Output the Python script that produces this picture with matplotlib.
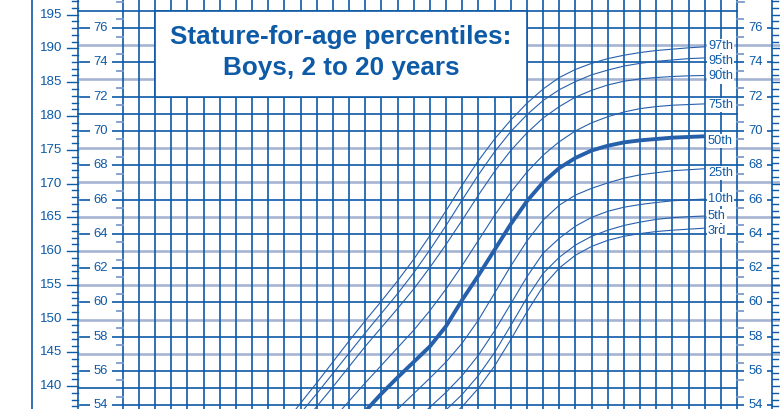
import numpy as np
import matplotlib.pyplot as plt
from matplotlib.patches import Rectangle

# percentile curves, stature in cm
ages = [6.5, 7.0, 7.5, 8.0, 8.5, 9.0, 9.5, 10.0, 10.5, 11.0, 11.5, 12.0, 12.5, 13.0, 13.5,
        14.0, 14.5, 15.0, 15.5, 16.0, 16.5, 17.0, 17.5, 18.0, 18.5, 19.0, 19.5, 20.0]
p97 = [131.2, 134.4, 137.5, 140.5, 143.6, 146.7, 149.7, 152.6, 155.6, 158.8, 162.3, 166.0, 169.8, 173.4, 176.6,
       179.4, 181.9, 184.0, 185.7, 186.9, 187.8, 188.5, 189.0, 189.4, 189.7, 189.9, 190.1, 190.25]
p95 = [129.9, 133.1, 136.0, 138.9, 141.9, 144.9, 147.9, 150.8, 153.7, 156.8, 160.2, 163.8, 167.6, 171.3, 174.7,
       177.7, 180.2, 182.3, 183.9, 185.1, 186.1, 186.8, 187.4, 187.8, 188.1, 188.3, 188.5, 188.6]
p90 = [128.1, 131.1, 134.0, 137.0, 139.9, 142.9, 145.9, 148.7, 151.5, 154.4, 157.6, 161.0, 164.6, 168.3, 171.8,
       174.9, 177.5, 179.7, 181.4, 182.8, 183.8, 184.6, 185.15, 185.5, 185.7, 185.85, 185.95, 186.0]
p75 = [124.2, 127.0, 129.7, 132.4, 135.1, 137.8, 140.5, 143.1, 145.7, 148.3, 151.2, 154.4, 157.9, 161.6, 165.3,
       168.7, 171.7, 174.2, 176.2, 177.8, 179.0, 179.9, 180.6, 181.1, 181.4, 181.6, 181.7, 181.8]
p50 = [120.2, 122.9, 125.6, 128.3, 131.0, 133.6, 136.3, 138.9, 141.3, 143.6, 145.9, 148.9, 152.8, 156.4, 160.2,
       164.0, 167.4, 170.2, 172.3, 173.8, 174.9, 175.6, 176.1, 176.4, 176.6, 176.8, 176.9, 177.0]
p25 = [116.3, 118.9, 121.4, 124.0, 126.6, 129.2, 131.7, 134.2, 136.6, 138.9, 141.2, 143.6, 146.4, 149.8, 153.8,
       157.8, 161.5, 164.6, 166.8, 168.3, 169.3, 170.1, 170.8, 171.3, 171.6, 171.9, 172.05, 172.2]
p10 = [113.0, 115.4, 117.9, 120.4, 122.9, 125.4, 127.8, 130.2, 132.5, 134.7, 136.9, 139.1, 141.6, 144.6, 148.2,
       152.2, 156.2, 159.7, 161.9, 163.7, 165.0, 165.9, 166.5, 166.9, 167.2, 167.45, 167.6, 167.7]
p5 = [111.0, 113.4, 115.9, 118.3, 120.7, 123.1, 125.5, 127.8, 130.0, 132.2, 134.3, 136.5, 138.8, 141.6, 145.0,
      149.0, 153.1, 156.7, 159.1, 160.9, 162.2, 163.1, 163.8, 164.3, 164.7, 164.95, 165.1, 165.2]
p3 = [109.8, 112.2, 114.6, 117.0, 119.4, 121.7, 124.0, 126.3, 128.5, 130.6, 132.7, 134.8, 137.0, 139.7, 143.0,
      146.9, 151.0, 154.8, 157.5, 159.4, 160.7, 161.6, 162.2, 162.6, 162.9, 163.1, 163.25, 163.4]

curves = [("97th", p97), ("95th", p95), ("90th", p90), ("75th", p75), ("50th", p50),
          ("25th", p25), ("10th", p10), ("5th", p5), ("3rd", p3)]
label_nudge = {"97th": 1, "95th": -3, "90th": -1, "75th": -1, "50th": -5,
               "25th": -4, "10th": 0, "5th": 0, "3rd": -3}  # pixels

cm_labels = list(range(140, 200, 5))
inch_labels = list(range(54, 78, 2))
gray_inches = [57, 59, 61, 63, 65, 67, 69, 73, 75]

BLUE = "#0d5aa7"
GRAY = "#a6b4d4"
CURVE = "#2660ab"
FONT = "Liberation Sans"

# pixel layout of the crop
AGE2_PX, PX_PER_YEAR = 122.7, 32.34
CM195_PX, PX_PER_CM = 14.7, 6.755


def px_x(px):
    return 2 + (px - AGE2_PX) / PX_PER_YEAR


def px_y(py):
    return 195 - (py - CM195_PX) / PX_PER_CM


fig = plt.figure(figsize=(7.8, 4.09), dpi=100)
ax = fig.add_axes([0, 0, 1, 1])
ax.set_xlim(px_x(0), px_x(780))
ax.set_ylim(px_y(409), px_y(0))
ax.axis("off")

# vertical grid, every half year from 2 to 21
for a in np.arange(2, 21.01, 0.5):
    ax.axvline(a, color=BLUE, lw=1.2, zorder=2)
for px in (32, 78, 771.7):
    ax.axvline(px_x(px), color=BLUE, lw=1.2, zorder=2)

# cm scales
for cm in range(130, 200):
    tl = 11 if cm % 5 == 0 else 6
    ax.plot([px_x(78 - tl), px_x(78)], [cm, cm], color=BLUE, lw=1.0, zorder=2)
    ax.plot([px_x(771.7), px_x(771.7 + tl)], [cm, cm], color=BLUE, lw=1.0, zorder=2)
for cm in cm_labels:
    ax.text(px_x(62), cm, str(cm), ha="right", va="center", fontsize=9.6,
            color=BLUE, family=FONT)

# inch grid lines and scales
for inch in range(52, 79):
    y = inch * 2.54
    if inch in gray_inches:
        ax.plot([px_x(78), px_x(780)], [y, y], color=GRAY, lw=1.9, zorder=1)
    elif inch in inch_labels:
        ax.plot([px_x(80), px_x(772)], [y, y], color=BLUE, lw=1.2, zorder=2)
        for px in (101, 755.5):
            ax.text(px_x(px), y, str(inch), ha="center", va="center", fontsize=9.4,
                    color=BLUE, family=FONT, zorder=4,
                    bbox=dict(boxstyle="square,pad=0.3", fc="white", ec="none"))
    else:
        ax.plot([px_x(78), px_x(737.3)], [y, y], color=BLUE, lw=1.2, zorder=2)
    yh = (inch + 0.5) * 2.54
    ax.plot([px_x(116.5), px_x(122.7)], [yh, yh], color="#7d9bcb", lw=1.3, zorder=2)
    ax.plot([px_x(737.3), px_x(743.5)], [yh, yh], color="#7d9bcb", lw=1.3, zorder=2)

# title box
ax.add_patch(Rectangle((3, 72 * 2.54), 11.5, 5 * 2.54, fc="white", ec=BLUE,
                       lw=1.2, zorder=3))
ax.text(8.75, px_y(37.5), "Stature-for-age percentiles:", ha="center", va="center",
        fontsize=18.8, fontweight="bold", color=BLUE, family=FONT, zorder=4)
ax.text(8.75, px_y(68.5), "Boys, 2 to 20 years", ha="center", va="center",
        fontsize=18.8, fontweight="bold", color=BLUE, family=FONT, zorder=4)

# percentile curves
for name, vals in curves:
    lw = 2.8 if name == "50th" else 0.8
    ax.plot(ages, vals, color=CURVE, lw=lw, zorder=3, solid_capstyle="butt")
    ax.annotate(name, (px_x(708), vals[-1]), xytext=(0, label_nudge[name]),
                textcoords="offset pixels", ha="left", va="center", fontsize=9.2,
                color=BLUE, family=FONT, zorder=5,
                bbox=dict(boxstyle="square,pad=0.08", fc="white", ec="none"))

fig.savefig("out.png", dpi=100)
